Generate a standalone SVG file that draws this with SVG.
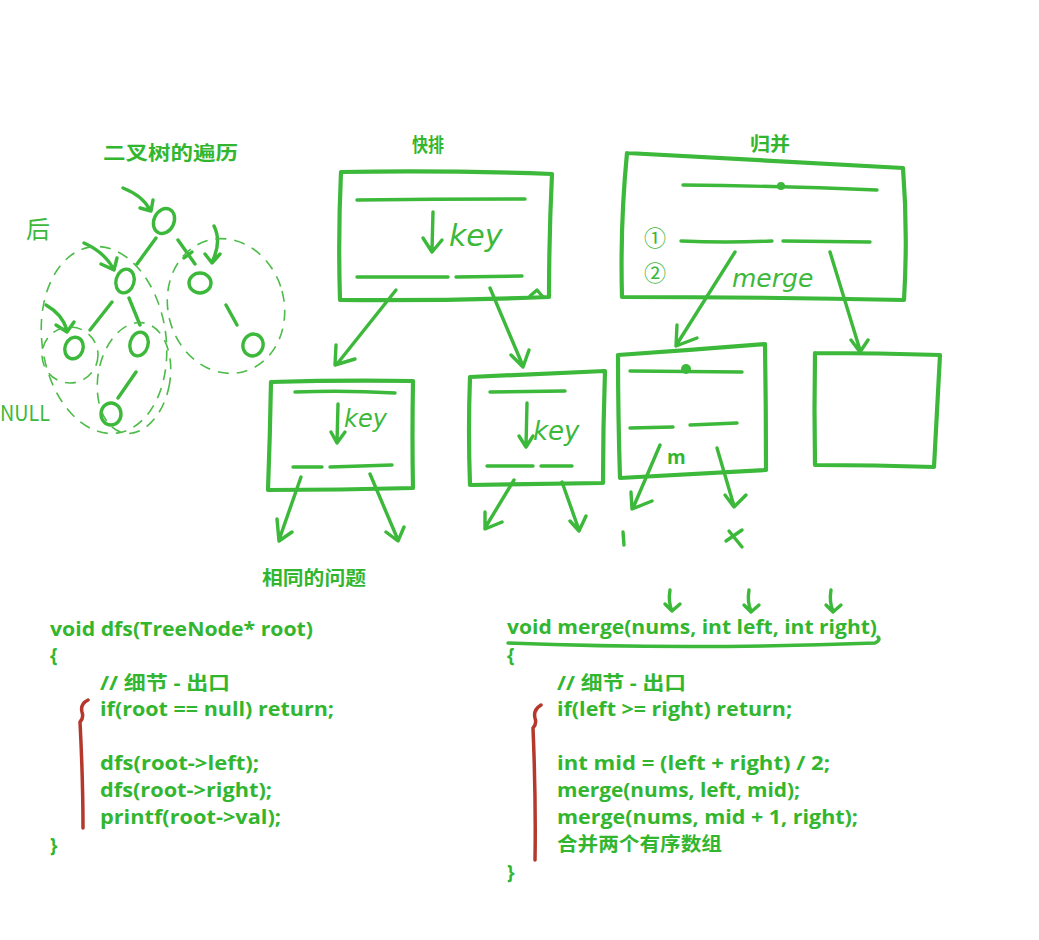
<svg xmlns="http://www.w3.org/2000/svg" width="1039" height="940" viewBox="0 0 1039 940">
<defs>
<style>
.s{fill:none;stroke:#3cb83a;stroke-width:4.2;stroke-linecap:round;stroke-linejoin:round}
.t{fill:none;stroke:#3cb83a;stroke-width:3.4;stroke-linecap:round;stroke-linejoin:round}
.d{fill:none;stroke:#4cbc48;stroke-width:1.6;stroke-dasharray:11 8}
.r{fill:none;stroke:#b5382c;stroke-width:3.5;stroke-linecap:round;stroke-linejoin:round}
.c{font-family:"Open Sans","Noto Sans CJK SC",sans-serif;font-weight:700;font-size:19px;fill:#33b62f}
.h{font-family:"DejaVu Sans",sans-serif;font-style:italic;fill:#3cb83a}
.u{font-family:"Noto Sans CJK SC","DejaVu Sans",sans-serif;font-style:normal;fill:#3cb83a}
</style>
</defs>
<rect width="1039" height="940" fill="#ffffff"/>

<g id="titles">
<text class="c" x="103" y="160" textLength="135" lengthAdjust="spacingAndGlyphs">二叉树的遍历</text>
<text class="c" x="412" y="152" textLength="32" lengthAdjust="spacingAndGlyphs">快排</text>
<text class="c" x="750" y="151" textLength="40" lengthAdjust="spacingAndGlyphs">归并</text>
<text class="c" x="262" y="585" textLength="104" lengthAdjust="spacingAndGlyphs">相同的问题</text>
</g>

<g id="tree">
<text class="u" x="26" y="238" font-size="24">后</text>
<text class="u" x="0" y="421" font-size="21" textLength="50" lengthAdjust="spacingAndGlyphs">NULL</text>
<ellipse class="t" cx="164" cy="221" rx="10" ry="13" transform="rotate(25 164 221)"/>
<ellipse class="t" cx="125" cy="281" rx="9" ry="12" transform="rotate(15 125 281)"/>
<ellipse class="t" cx="200" cy="283" rx="11" ry="10"/>
<ellipse class="t" cx="74" cy="348" rx="9" ry="11" transform="rotate(20 74 348)"/>
<ellipse class="t" cx="139" cy="344" rx="9" ry="12" transform="rotate(15 139 344)"/>
<ellipse class="t" cx="111" cy="414" rx="10" ry="11"/>
<ellipse class="t" cx="253" cy="345" rx="10" ry="11" transform="rotate(20 253 345)"/>
<path class="t" d="M156 238 L137 264 M178 240 L195 264 M184 258 L192 252 M112 302 L90 330 M129 298 L140 325 M136 372 L118 398 M226 305 L237 325"/>
<path class="t" d="M123 188 Q143 196 150 210 M140 208 L151 211 L153 200"/>
<path class="t" d="M84 243 Q104 252 113 268 M101 264 L114 270 L117 258"/>
<path class="t" d="M46 305 Q62 314 67 330 M56 325 L67 332 L74 322"/>
<path class="t" d="M214 226 Q222 242 212 262 M205 254 L212 263 L220 254"/>
<ellipse class="d" cx="104" cy="340" rx="62" ry="94" transform="rotate(-8 104 340)"/>
<ellipse class="d" cx="226" cy="306" rx="58" ry="68" transform="rotate(-15 226 306)"/>
<ellipse class="d" cx="134" cy="378" rx="36" ry="56" transform="rotate(10 134 378)"/>
<ellipse class="d" cx="70" cy="355" rx="28" ry="28"/>
</g>

<g id="qs-root">
<path class="s" d="M341 172 Q440 170 552 174 Q549 236 549 297 Q445 301 340 300 Q338 236 341 172"/>
<path class="t" d="M357 200 Q440 199 525 199"/>
<path class="t" d="M357 277 L448 277 M456 277 L522 276"/>
<path class="t" d="M433 212 L432 250 M423 238 L432 252 L442 240"/>
<text class="h" x="449" y="246" font-size="30">key</text>
<path class="t" d="M530 296 L537 290 L543 297"/>
</g>

<g id="qs-left">
<path class="s" d="M271 382 Q340 380 413 381 Q412 436 413 488 Q340 490 268 490 Q270 436 271 382"/>
<path class="t" d="M295 392 Q345 390 395 393"/>
<path class="t" d="M293 467 L322 467 M330 467 L392 465"/>
<path class="t" d="M338 404 L337 442 M331 432 L337 443 L345 432"/>
<text class="h" x="344" y="427" font-size="24">key</text>
</g>

<g id="qs-right">
<path class="s" d="M470 377 Q540 374 605 371 Q603 428 603 483 Q535 484 470 485 Q468 430 470 377"/>
<path class="t" d="M490 392 L565 391"/>
<path class="t" d="M487 466 L533 466 M541 466 L572 466"/>
<path class="t" d="M527 403 L526 446 M519 436 L526 447 L533 436"/>
<text class="h" x="533" y="440" font-size="26">key</text>
</g>

<g id="merge-root">
<path class="s" d="M627 153 Q760 160 903 168 Q908 232 904 300 Q765 297 622 297 Q620 225 627 153"/>
<path class="t" d="M683 185 Q780 186 877 190"/>
<circle cx="781" cy="186" r="4" fill="#3cb83a"/>
<path class="t" d="M681 241 Q725 243 772 241 M783 241 L870 242"/>
<text class="u" x="644" y="246" font-size="22">①</text>
<text class="u" x="644" y="281" font-size="22">②</text>
<text class="h" x="732" y="287" font-size="25">merge</text>
</g>

<g id="merge-left">
<path class="s" d="M618 355 Q690 350 765 344 Q766 408 766 470 Q690 474 620 478 Q618 415 618 355"/>
<path class="t" d="M630 371 L742 372"/>
<circle cx="686" cy="369" r="5" fill="#3cb83a"/>
<path class="t" d="M630 428 L673 427 M690 425 L737 423"/>
<text class="c" x="667" y="464" font-size="17">m</text>
<path class="t" d="M623 532 L624 545"/>
<path class="t" d="M726 541 L742 530 M729 531 L742 547"/>
</g>

<g id="merge-right">
<path class="s" d="M815 353 Q880 353 940 355 Q937 412 934 467 Q875 465 815 465 Q814 410 815 353"/>
</g>

<g id="connectors">
<path class="t" d="M396 290 L337 364 M336 345 L335 365 L355 359"/>
<path class="t" d="M490 288 L523 366 M511 355 L523 367 L529 350"/>
<path class="t" d="M735 252 L677 344 M677 325 L676 346 L697 338"/>
<path class="t" d="M830 252 L860 350 M851 340 L860 352 L868 340"/>
<path class="t" d="M301 477 L279 540 M277 519 L279 541 L292 532"/>
<path class="t" d="M370 474 L398 540 M386 532 L398 541 L404 527"/>
<path class="t" d="M514 480 L485 528 M485 512 L485 529 L502 522"/>
<path class="t" d="M562 482 L579 530 M570 521 L579 531 L586 516"/>
<path class="t" d="M660 445 L633 508 M631 492 L632 509 L652 501"/>
<path class="t" d="M717 448 L734 506 M725 495 L734 507 L746 495"/>
<path class="t" d="M670 590 Q668 602 672 611 M665 604 L672 611 L680 604"/>
<path class="t" d="M749 590 Q747 602 751 611 M744 605 L751 612 L759 605"/>
<path class="t" d="M831 590 Q829 602 833 611 M826 605 L833 612 L841 605"/>
</g>

<g id="code-left">
<text class="c" x="50" y="636" textLength="263" lengthAdjust="spacingAndGlyphs">void dfs(TreeNode* root)</text>
<text class="c" x="50" y="662">{</text>
<text class="c" x="100" y="690" textLength="130" lengthAdjust="spacingAndGlyphs">// 细节 - 出口</text>
<text class="c" x="100" y="716" textLength="234" lengthAdjust="spacingAndGlyphs">if(root == null) return;</text>
<text class="c" x="100" y="770" textLength="159" lengthAdjust="spacingAndGlyphs">dfs(root-&gt;left);</text>
<text class="c" x="100" y="797" textLength="172" lengthAdjust="spacingAndGlyphs">dfs(root-&gt;right);</text>
<text class="c" x="100" y="824" textLength="181" lengthAdjust="spacingAndGlyphs">printf(root-&gt;val);</text>
<text class="c" x="50" y="852">}</text>
<path class="r" d="M88 700 Q80 704 82 712 Q84 718 80 722 Q83 780 83 828"/>
</g>

<g id="code-right">
<text class="c" x="507" y="634" textLength="370" lengthAdjust="spacingAndGlyphs">void merge(nums, int left, int right)</text>
<path class="t" d="M508 643 Q690 650 875 643 Q881 640 878 637" stroke-width="2.5"/>
<text class="c" x="507" y="662">{</text>
<text class="c" x="557" y="690" textLength="129" lengthAdjust="spacingAndGlyphs">// 细节 - 出口</text>
<text class="c" x="557" y="716" textLength="235" lengthAdjust="spacingAndGlyphs">if(left &gt;= right) return;</text>
<text class="c" x="557" y="770" textLength="273" lengthAdjust="spacingAndGlyphs">int mid = (left + right) / 2;</text>
<text class="c" x="557" y="797" textLength="243" lengthAdjust="spacingAndGlyphs">merge(nums, left, mid);</text>
<text class="c" x="557" y="824" textLength="301" lengthAdjust="spacingAndGlyphs">merge(nums, mid + 1, right);</text>
<text class="c" x="557" y="851" textLength="165" lengthAdjust="spacingAndGlyphs">合并两个有序数组</text>
<text class="c" x="507" y="879">}</text>
<path class="r" d="M541 705 Q533 710 535 718 Q537 724 533 728 Q536 800 535 860"/>
</g>
</svg>
